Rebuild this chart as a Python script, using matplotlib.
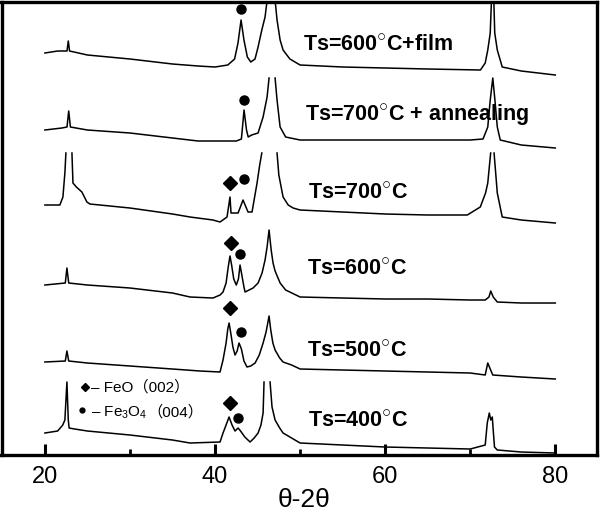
import numpy as np
import matplotlib
matplotlib.use('Agg')
import matplotlib.pyplot as plt
from matplotlib.ticker import MultipleLocator

plt.rcParams['font.family'] = ['Liberation Sans', 'Noto Sans CJK SC', 'DejaVu Sans']
plt.rcParams['mathtext.fontset'] = 'custom'
plt.rcParams['mathtext.rm'] = 'Liberation Sans'
plt.rcParams['mathtext.it'] = 'Liberation Sans'
plt.rcParams['mathtext.bf'] = 'Liberation Sans:bold'

nan = np.nan

# XRD traces (2theta in deg, intensity in arb. units incl. offset)
tt_film = [20.0, 21.5, 22.6, 22.75, 22.9, 25.0, 30.0, 35.0, 38.0, 40.0, 41.5, 42.3, 42.7,
           43.06, 43.4, 43.8, 44.2, 44.7, 45.06, 45.5, 45.88, 46.2, 46.6, 47.0, 47.29,
           47.65, 48.0, 48.8, 50.0, 55.0, 60.0, 65.0, 71.2, 71.76, 72.06, 72.35, 72.65,
           72.88, 73.18, 73.76, 76.0, 80.0]
int_film = [402, 404, 404, 414, 404, 400, 396, 391, 389, 388, 390, 396, 412,
            435, 415, 398, 393, 396, 408, 425, 438, 460, 490, 460, 435,
            415, 405, 396, 390, 388, 387, 386, 385, 392, 405, 422, 490,
            422, 405, 388, 384, 380]

tt_700a = [20.0, 22.0, 22.6, 22.8, 23.0, 25.0, 30.0, 35.0, 38.0, 40.5, 42.5, 43.1, 43.41,
           43.7, 43.9, 44.3, 45.06, 45.65, 46.12, 46.35, nan, 47.06, 47.29, 47.65, 48.3,
           50.0, 55.0, 60.0, 65.0, 70.0, 71.5, 72.06, 72.35, 72.65, 72.9, 73.18, 73.53,
           76.0, 80.0]
int_700a = [325, 327, 328, 344, 328, 325, 322, 317, 314, 314, 314, 316, 345,
            325, 318, 320, 322, 338, 358, 377, nan, 377, 355, 328, 318,
            315, 315, 315, 315, 315, 316, 328, 355, 377, 355, 328, 315,
            310, 307]

tt_700 = [20.0, 21.76, 22.12, 22.35, 22.47, nan, 23.18, 23.3, 23.7, 24.35, 24.94, 25.29,
          30.0, 35.0, 37.06, 39.76, 40.59, 41.41, 41.76, 41.88, 42.71, 43.29, 43.88, 44.35,
          44.94, 45.25, 45.5, nan, 47.29, 47.5, 48.0, 48.6, 49.18, 50.0, 55.0, 60.0, 65.0,
          69.65, 71.18, 71.8, 72.06, 72.4, nan, 72.8, 73.18, 73.76, 76.0, 80.0]
int_700 = [250, 250, 258, 282, 302, nan, 302, 272, 268, 263, 253, 251,
           247, 241, 238, 235, 233, 238, 258, 242, 242, 255, 243, 243,
           272, 290, 302, nan, 302, 280, 258, 250, 247, 245, 243, 241, 240,
           240, 248, 262, 272, 302, nan, 302, 262, 238, 235, 232]

tt_600 = [20.0, 22.4, 22.59, 22.8, 25.0, 30.0, 35.0, 37.06, 39.76, 40.59, 40.94, 41.3,
          41.55, 41.76, 41.95, 42.2, 42.5, 42.75, 42.94, 43.15, 43.4, 43.53, 44.0, 44.47,
          45.06, 45.53, 45.88, 46.12, 46.35, 46.6, 46.82, 47.06, 47.65, 48.3, 50.0, 55.0,
          60.0, 65.0, 70.0, 71.76, 72.2, 72.41, 72.7, 73.18, 76.0, 80.0]
int_600 = [170, 172, 187, 172, 170, 167, 162, 158, 157, 160, 163, 172,
           188, 199, 190, 176, 170, 176, 190, 180, 168, 163, 165, 167,
           172, 182, 195, 208, 225, 205, 192, 184, 172, 165, 158, 157,
           156, 156, 155, 155, 158, 164, 158, 153, 152, 152]

tt_500 = [20.0, 22.4, 22.59, 22.8, 25.0, 30.0, 35.0, 38.24, 40.59, 40.94, 41.3, 41.5,
          41.65, 41.85, 42.1, 42.35, 42.6, 42.82, 43.1, 43.4, 43.76, 44.2, 44.71, 45.2,
          45.65, 46.0, 46.2, 46.35, 46.55, 46.8, 47.06, 47.6, 48.0, 49.0, 50.0, 60.0,
          70.0, 71.76, 72.06, 72.4, 72.65, 76.0, 80.0]
int_500 = [93, 94, 104, 94, 92, 89, 86, 84, 83, 95, 112, 126,
           132, 122, 108, 100, 104, 112, 106, 94, 88, 89, 92, 100,
           112, 123, 132, 139, 125, 112, 105, 97, 93, 90, 86, 84,
           82, 80, 92, 85, 80, 78, 76]

tt_400 = [20.0, 21.5, 22.1, 22.35, 22.59, 22.75, 22.85, 23.5, 25.0, 30.0, 35.0, 37.06,
          40.59, 40.94, 41.3, 41.65, 42.0, 42.35, 42.71, 43.0, 43.5, 44.12, 44.6, 45.06,
          45.4, 45.65, 45.76, nan, 46.47, 46.7, 47.06, 47.6, 48.0, 49.0, 50.0, 60.0, 70.0,
          71.76, 72.0, 72.24, 72.41, 72.59, 72.7, 72.85, 73.18, 76.0, 80.0]
int_400 = [22, 24, 30, 35, 73, 35, 27, 26, 24, 20, 15, 12,
           13, 22, 30, 38, 30, 24, 27, 24, 18, 13, 17, 22,
           30, 42, 73, nan, 73, 48, 35, 27, 22, 17, 12, 8, 6,
           10, 32, 42, 35, 38, 25, 8, 5, 3, 2]

# peak markers: FeO (002) diamonds, Fe3O4 (004) dots
dot_tt = [43.06, 43.41, 43.41, 42.94, 43.06, 42.71]
dot_int = [446, 355, 276, 201, 123, 37]
dia_tt = [41.76, 41.88, 41.76, 41.76]
dia_int = [272, 212, 147, 52]

labels = [r'Ts=600$^{\bigcirc}$C+film', r'Ts=700$^{\bigcirc}$C + annealing',
          r'Ts=700$^{\bigcirc}$C', r'Ts=600$^{\bigcirc}$C', r'Ts=500$^{\bigcirc}$C',
          r'Ts=400$^{\bigcirc}$C']
label_tt = [50.35, 50.6, 50.94, 50.8, 50.8, 50.94]
label_int = [404, 334, 256, 180, 98, 28]

fig = plt.figure(figsize=(6, 5.18), dpi=100)
ax = fig.add_axes([0.0025, 0.1216, 0.9925, 0.8755])

for xs, ys in [(tt_film, int_film), (tt_700a, int_700a), (tt_700, int_700),
               (tt_600, int_600), (tt_500, int_500), (tt_400, int_400)]:
    ax.plot(xs, ys, color='black', lw=1.1)

ax.plot(dot_tt, dot_int, 'o', color='black', ms=6.5)
ax.plot(dia_tt, dia_int, 'D', color='black', ms=7)

for s, x, y in zip(labels, label_tt, label_int):
    ax.text(x, y, s, fontsize=15.5, fontweight='bold', va='baseline', ha='left')

# legend drawn by hand, as in the original
ax.plot([24.7], [68], 'D', color='black', ms=4.5)
ax.plot([24.35], [45], 'o', color='black', ms=3.5)
ax.text(25.4, 63, '– FeO（002）', fontsize=11, va='baseline')
t = ax.text(25.4, 38, '– Fe$_3$O$_4$', fontsize=11, va='baseline')
ax.annotate('（004）', xy=(1, 0), xycoords=t, fontsize=11, va='bottom', ha='left',
            xytext=(0, 1), textcoords='offset points')

ax.set_xlim(14.9, 84.9)
ax.set_ylim(0, 453.5)
ax.set_yticks([])
ax.xaxis.set_major_locator(MultipleLocator(20))
ax.xaxis.set_minor_locator(MultipleLocator(10))
ax.tick_params(axis='x', which='major', direction='in', length=8, width=2.2,
               labelsize=17, pad=8)
ax.tick_params(axis='x', which='minor', direction='in', length=4, width=2.0)
for sp in ax.spines.values():
    sp.set_linewidth(2.4)

fig.text(0.507, 0.035, 'θ-2θ', fontsize=19, ha='center', va='center')

fig.savefig('out.png', dpi=100)
